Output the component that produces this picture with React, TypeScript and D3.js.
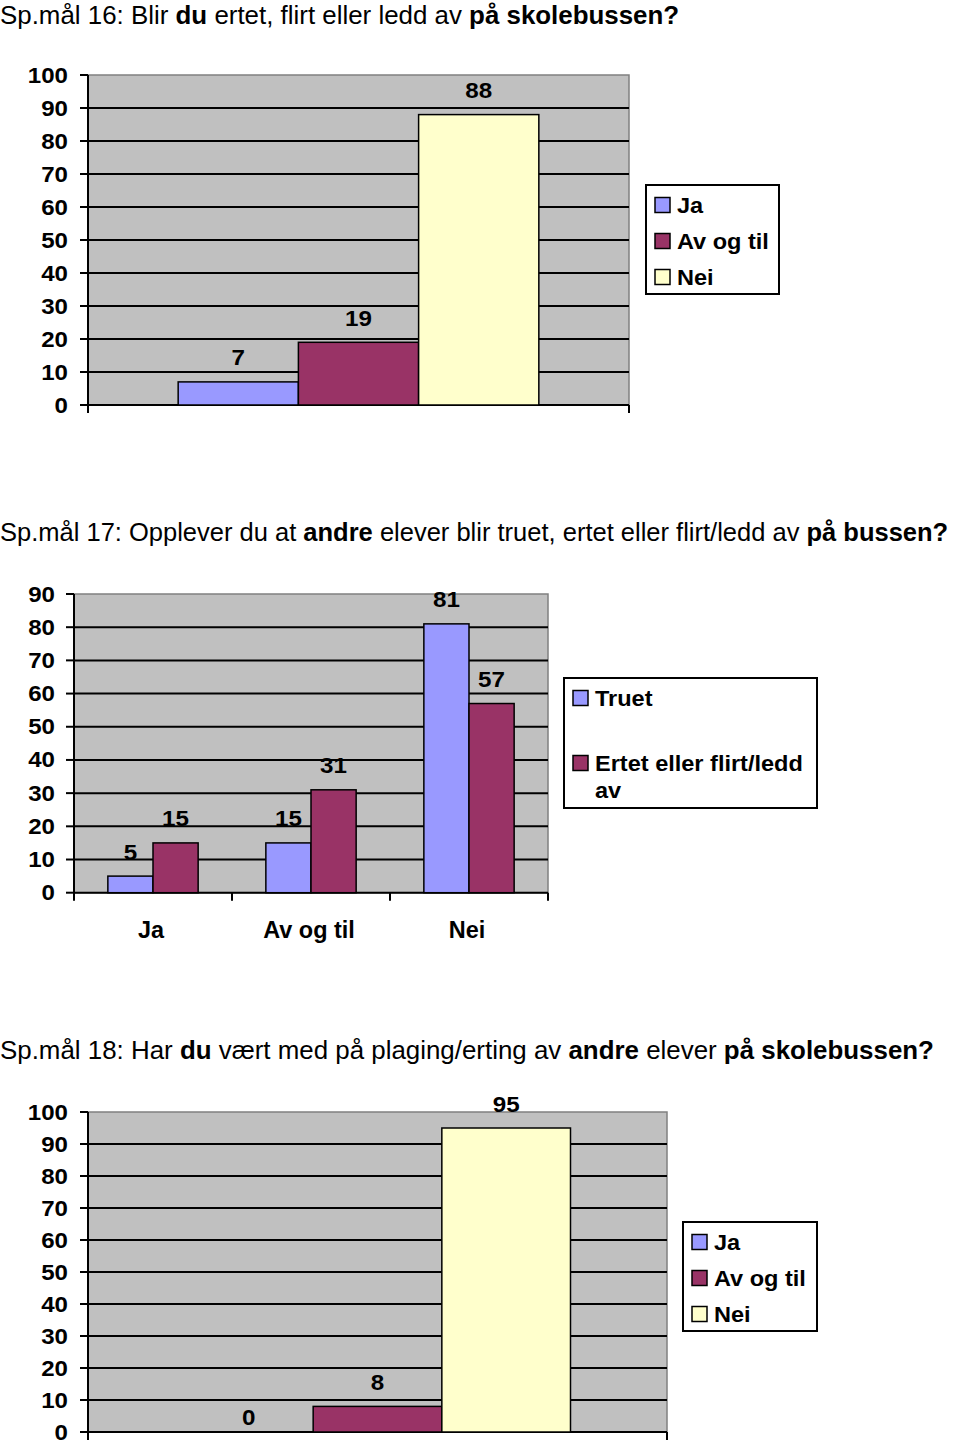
import React from "react";
import * as d3 from "d3";

// ---------- data ----------
const seriesJaAvNei = ["Ja", "Av og til", "Nei"];
const q16Values = [7, 19, 88];
const q17Categories = ["Ja", "Av og til", "Nei"];
const q17Series = ["Truet", "Ertet eller flirt/ledd av"];
const q17Truet = [5, 15, 81];
const q17Ertet = [15, 31, 57];
const q18Values = [0, 8, 95];
const ticks100 = [0, 10, 20, 30, 40, 50, 60, 70, 80, 90, 100];
const ticks90 = [0, 10, 20, 30, 40, 50, 60, 70, 80, 90];

const title16: [string, boolean][] = [
  ["Sp.mål 16: Blir ", false],
  ["du", true],
  [" ertet, flirt eller ledd av ", false],
  ["på skolebussen?", true],
];
const title17: [string, boolean][] = [
  ["Sp.mål 17: Opplever du at ", false],
  ["andre", true],
  [" elever blir truet, ertet eller flirt/ledd av ", false],
  ["på bussen?", true],
];
const title18: [string, boolean][] = [
  ["Sp.mål 18: Har ", false],
  ["du", true],
  [" vært med på plaging/erting av ", false],
  ["andre", true],
  [" elever ", false],
  ["på skolebussen?", true],
];

const COLORS = ["#9999FF", "#993366", "#FFFFCC"];
const FONT = "'Liberation Sans', Arial, Helvetica, sans-serif";
const PLOT_BG = "#C0C0C0";

type TProps = {
  x: number;
  y: number;
  size: number;
  sx?: number;
  anchor?: "start" | "middle" | "end";
  bold?: boolean;
  children: React.ReactNode;
};
const T = ({ x, y, size, sx = 1, anchor = "start", bold = true, children }: TProps) => (
  <text
    transform={`translate(${x},${y}) scale(${sx},1)`}
    fontSize={size}
    fontFamily={FONT}
    fontWeight={bold ? "bold" : "normal"}
    textAnchor={anchor}
    fill="#000"
  >
    {children}
  </text>
);

const Title = ({ parts, y, size }: { parts: [string, boolean][]; y: number; size: number }) => (
  <text x={0} y={y} fontSize={size} fontFamily={FONT} fill="#000" style={{ whiteSpace: "pre" }}>
    {parts.map(([s, b], i) => (
      <tspan key={i} fontWeight={b ? "bold" : "normal"}>
        {s}
      </tspan>
    ))}
  </text>
);

type PlotFrameProps = {
  left: number;
  right: number;
  top: number;
  bottom: number;
  y: d3.ScaleLinear<number, number>;
  ticks: number[];
  bottomTicks: number[];
  labelRight: number;
};
const PlotFrame = ({ left, right, top, bottom, y, ticks, bottomTicks, labelRight }: PlotFrameProps) => {
  const maxT = ticks[ticks.length - 1];
  return (
    <g>
      <rect x={left} y={top} width={right - left} height={bottom - top} fill={PLOT_BG} stroke="#808080" strokeWidth={1.5} />
      {ticks
        .filter((t) => t !== 0 && t !== maxT)
        .map((t) => (
          <line key={t} x1={left} x2={right} y1={y(t)} y2={y(t)} stroke="#000" strokeWidth={2} />
        ))}
      {ticks.map((t) => (
        <line key={"tk" + t} x1={left - 8} x2={left} y1={y(t)} y2={y(t)} stroke="#000" strokeWidth={2} />
      ))}
      {ticks.map((t) => (
        <T key={"tl" + t} x={labelRight} y={y(t) + 7.5} size={21.5} sx={1.12} anchor="end">
          {t}
        </T>
      ))}
      <line x1={left} x2={left} y1={top} y2={bottom + 8} stroke="#000" strokeWidth={2} />
      <line x1={left} x2={right} y1={bottom} y2={bottom} stroke="#000" strokeWidth={2} />
      {bottomTicks.map((bx, i) => (
        <line key={"bt" + i} x1={bx} x2={bx} y1={bottom} y2={bottom + 8} stroke="#000" strokeWidth={2} />
      ))}
    </g>
  );
};

const Legend = ({
  x,
  y,
  w,
  h,
  items,
}: {
  x: number;
  y: number;
  w: number;
  h: number;
  items: { label: string[]; color: string; cy: number }[];
}) => (
  <g>
    <rect x={x} y={y} width={w} height={h} fill="#fff" stroke="#000" strokeWidth={2} />
    {items.map((it, i) => (
      <g key={i}>
        <rect x={x + 9} y={it.cy - 7.5} width={15} height={15} fill={it.color} stroke="#000" strokeWidth={1.5} />
        {it.label.map((ln, j) => (
          <T key={j} x={x + 31} y={it.cy + 8 + j * 27} size={22} sx={1.07}>
            {ln}
          </T>
        ))}
      </g>
    ))}
  </g>
);

// single-category chart with three series side by side
const SingleGroupChart = ({
  values,
  left,
  right,
  top,
  bottom,
  legendBox,
}: {
  values: number[];
  left: number;
  right: number;
  top: number;
  bottom: number;
  legendBox: { x: number; y: number; w: number; h: number };
}) => {
  const y = d3.scaleLinear().domain([0, 100]).range([bottom, top]);
  const x = d3.scaleBand<string>().domain(seriesJaAvNei).range([left, right]).paddingInner(0).paddingOuter(0.75);
  return (
    <g>
      <PlotFrame left={left} right={right} top={top} bottom={bottom} y={y} ticks={ticks100} bottomTicks={[right]} labelRight={left - 20} />
      {values.map((v, i) => {
        const s = seriesJaAvNei[i];
        const bx = x(s)!;
        return (
          <g key={s}>
            {v > 0 && (
              <rect x={bx} y={y(v)} width={x.bandwidth()} height={bottom - y(v)} fill={COLORS[i]} stroke="#000" strokeWidth={1.5} />
            )}
            <T x={bx + x.bandwidth() / 2} y={y(v) - (v > 0 ? 16.5 : 7)} size={22} sx={1.1} anchor="middle">
              {v}
            </T>
          </g>
        );
      })}
      <Legend
        {...legendBox}
        items={seriesJaAvNei.map((s, i) => ({
          label: [s],
          color: COLORS[i],
          cy: legendBox.y + 20 + i * 36,
        }))}
      />
    </g>
  );
};

const GroupedChart = () => {
  const left = 74,
    right = 548,
    top = 594,
    bottom = 892.7;
  const y = d3.scaleLinear().domain([0, 90]).range([bottom, top]);
  const x0 = d3.scaleBand<string>().domain(q17Categories).range([left, right]).padding(0);
  const x1 = d3.scaleBand<string>().domain(q17Series).range([0, x0.bandwidth()]).paddingInner(0).paddingOuter(0.75);
  const seriesVals = [q17Truet, q17Ertet];
  const bTicks = [...q17Categories.map((c) => x0(c)!), right].filter((v) => v !== left);
  return (
    <g>
      <PlotFrame left={left} right={right} top={top} bottom={bottom} y={y} ticks={ticks90} bottomTicks={bTicks} labelRight={left - 19} />
      {q17Categories.map((c, ci) => (
        <g key={c}>
          {q17Series.map((s, si) => {
            const v = seriesVals[si][ci];
            const bx = x0(c)! + x1(s)!;
            return (
              <g key={s}>
                <rect x={bx} y={y(v)} width={x1.bandwidth()} height={bottom - y(v)} fill={COLORS[si]} stroke="#000" strokeWidth={1.5} />
                <T x={bx + x1.bandwidth() / 2} y={y(v) - 16.5} size={22} sx={1.1} anchor="middle">
                  {v}
                </T>
              </g>
            );
          })}
          <T x={x0(c)! + x0.bandwidth() / 2 - 2} y={938} size={23} sx={1.02} anchor="middle">
            {c}
          </T>
        </g>
      ))}
      <Legend
        x={564}
        y={678}
        w={253}
        h={130}
        items={[
          { label: [q17Series[0]], color: COLORS[0], cy: 698 },
          { label: ["Ertet eller flirt/ledd", "av"], color: COLORS[1], cy: 763 },
        ]}
      />
    </g>
  );
};

export default function App() {
  return (
    <svg
      width={960}
      height={1452}
      viewBox="0 0 960 1452"
      style={{ position: "absolute", left: 0, top: 0, display: "block", background: "#fff" }}
    >
      <rect x={0} y={0} width={960} height={1452} fill="#fff" />
      <Title parts={title16} y={24} size={25.9} />
      <SingleGroupChart values={q16Values} left={88} right={629} top={75} bottom={405} legendBox={{ x: 646, y: 185, w: 133, h: 109 }} />
      <Title parts={title17} y={541} size={25.5} />
      <GroupedChart />
      <Title parts={title18} y={1059} size={25.9} />
      <SingleGroupChart values={q18Values} left={88} right={667} top={1112} bottom={1432} legendBox={{ x: 683, y: 1222, w: 134, h: 109 }} />
    </svg>
  );
}
